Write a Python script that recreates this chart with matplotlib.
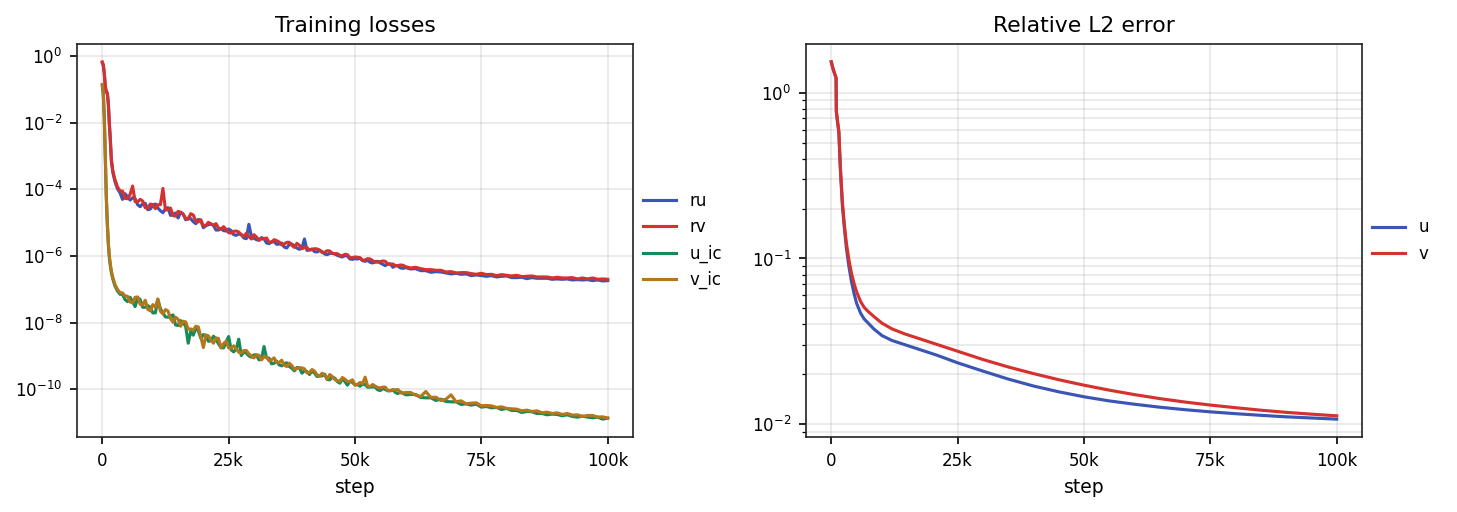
"""
Training curves: PDE residual / IC losses and relative L2 error
"""

import numpy as np
import matplotlib
matplotlib.use("Agg")
import matplotlib.pyplot as plt
from matplotlib.ticker import FuncFormatter, NullLocator

# ---- data (log10 values) ----
# steps: dense start, every 500 up to 60k, every 1000 after
loss_steps = ([0, 200, 400, 600, 800, 1000, 1200, 1400, 1600, 1800, 2100, 2500, 3000, 3500]
              + list(range(4000, 60000, 500)) + list(range(60000, 100001, 1000)))

ru_log10 = [
    -0.20, -0.28, -0.52, -0.93, -1.08, -1.13, -1.45, -2.05, -2.55, -3.15, -3.50, -3.76, -3.98, -4.10,
    -4.30, -4.13, -4.22, -4.32, -4.25, -4.28, -4.46, -4.52, -4.43, -4.42,
    -4.61, -4.59, -4.48, -4.44, -4.56, -4.64, -4.70, -4.58, -4.55, -4.78,
    -4.75, -4.71, -4.86, -4.68, -4.74, -4.91, -4.86, -4.88, -4.97, -5.03,
    -4.90, -4.94, -5.15, -5.09, -5.06, -5.04, -5.08, -5.22, -5.22, -5.17,
    -5.24, -5.25, -5.19, -5.24, -5.36, -5.38, -5.34, -5.35, -5.46, -5.48,
    -5.05, -5.41, -5.47, -5.51, -5.53, -5.45, -5.48, -5.61, -5.63, -5.57,
    -5.57, -5.65, -5.64, -5.61, -5.73, -5.76, -5.65, -5.64, -5.70, -5.76,
    -5.80, -5.76, -5.49, -5.83, -5.82, -5.79, -5.87, -5.88, -5.84, -5.87,
    -5.94, -5.96, -5.92, -5.92, -5.94, -5.98, -6.01, -6.03, -5.99, -6.00,
    -6.09, -6.10, -6.08, -6.09, -6.07, -6.14, -6.16, -6.13, -6.19, -6.21,
    -6.17, -6.16, -6.21, -6.25, -6.29, -6.23, -6.24, -6.34, -6.29, -6.30,
    -6.36, -6.37,
    -6.35, -6.39, -6.38, -6.44, -6.44, -6.49, -6.47, -6.48, -6.51, -6.54,
    -6.52, -6.55, -6.54, -6.59, -6.57, -6.59, -6.61, -6.59, -6.63, -6.61,
    -6.60, -6.65, -6.65, -6.64, -6.68, -6.65, -6.67, -6.67, -6.67, -6.70,
    -6.69, -6.70, -6.69, -6.72, -6.71, -6.72, -6.71, -6.74, -6.72, -6.75, -6.74,
]
rv_log10 = [
    -0.17, -0.25, -0.50, -0.90, -1.05, -1.10, -1.40, -2.00, -2.50, -3.10, -3.45, -3.70, -3.92, -4.05,
    -4.05, -4.27, -4.28, -4.15, -3.90, -4.37, -4.37, -4.30, -4.35, -4.55,
    -4.56, -4.44, -4.46, -4.58, -4.46, -4.46, -3.97, -4.62, -4.61, -4.56,
    -4.79, -4.80, -4.66, -4.70, -4.75, -4.87, -4.90, -4.73, -4.77, -4.95,
    -4.98, -4.91, -5.10, -5.08, -4.99, -5.04, -5.08, -5.03, -5.16, -5.20,
    -5.12, -5.20, -5.30, -5.31, -5.26, -5.25, -5.28, -5.37, -5.41, -5.32,
    -5.42, -5.49, -5.36, -5.43, -5.51, -5.49, -5.48, -5.46, -5.59, -5.59,
    -5.51, -5.54, -5.58, -5.67, -5.64, -5.59, -5.59, -5.68, -5.74, -5.62,
    -5.68, -5.78, -5.75, -5.75, -5.82, -5.81, -5.78, -5.79, -5.82, -5.90,
    -5.89, -5.84, -5.85, -5.92, -5.93, -5.93, -5.98, -6.00, -5.95, -5.96,
    -6.05, -6.05, -6.03, -6.04, -6.05, -6.13, -6.12, -6.08, -6.09, -6.14,
    -6.19, -6.18, -6.17, -6.15, -6.16, -6.25, -6.25, -6.24, -6.29, -6.29,
    -6.27, -6.28,
    -6.32, -6.36, -6.34, -6.38, -6.41, -6.41, -6.43, -6.43, -6.48, -6.47,
    -6.51, -6.50, -6.50, -6.53, -6.55, -6.52, -6.56, -6.55, -6.59, -6.56,
    -6.58, -6.60, -6.58, -6.62, -6.61, -6.60, -6.63, -6.63, -6.63, -6.66,
    -6.64, -6.66, -6.66, -6.65, -6.69, -6.66, -6.69, -6.66, -6.70, -6.69, -6.70,
]
u_ic_log10 = [
    -0.88, -1.15, -1.85, -3.05, -4.25, -5.05, -5.65, -6.05, -6.30, -6.50, -6.70, -6.90, -7.05, -7.15,
    -7.15, -7.31, -7.37, -7.24, -7.37, -7.52, -7.25, -7.31, -7.54, -7.54,
    -7.49, -7.54, -7.71, -7.71, -7.31, -7.58, -7.71, -7.83, -7.84, -7.80,
    -7.77, -8.07, -8.09, -7.94, -8.01, -8.11, -8.62, -8.26, -8.38, -8.16,
    -8.25, -8.47, -8.36, -8.41, -8.56, -8.55, -8.41, -8.50, -8.64, -8.75,
    -8.76, -8.58, -8.42, -8.82, -8.88, -8.79, -8.50, -8.99, -8.88, -8.92,
    -9.00, -9.04, -8.97, -8.97, -9.12, -9.10, -8.72, -9.06, -9.07, -9.24,
    -9.22, -9.16, -9.27, -9.30, -9.23, -9.21, -9.32, -9.37, -9.45, -9.35,
    -9.36, -9.52, -9.45, -9.47, -9.56, -9.45, -9.52, -9.62, -9.60, -9.60,
    -9.55, -9.71, -9.72, -9.64, -9.67, -9.77, -9.82, -9.69, -9.77, -9.88,
    -9.76, -9.80, -9.87, -9.86, -9.91, -9.85, -9.86, -9.94, -9.94, -9.93,
    -9.94, -10.02, -10.04, -9.98, -10.01, -10.05, -10.05, -10.02, -10.10, -10.13,
    -10.08, -10.12,
    -10.17, -10.16, -10.16, -10.25, -10.26, -10.26, -10.34, -10.30, -10.37, -10.38,
    -10.38, -10.46, -10.44, -10.48, -10.45, -10.54, -10.52, -10.56, -10.55, -10.61,
    -10.58, -10.64, -10.64, -10.70, -10.67, -10.68, -10.73, -10.73, -10.77, -10.75,
    -10.76, -10.80, -10.77, -10.82, -10.84, -10.81, -10.84, -10.86, -10.84, -10.90, -10.87,
]
v_ic_log10 = [
    -0.85, -1.10, -1.80, -3.00, -4.20, -5.00, -5.60, -6.00, -6.25, -6.45, -6.65, -6.85, -7.00, -7.10,
    -7.11, -7.20, -7.21, -7.38, -7.41, -7.24, -7.23, -7.45, -7.47, -7.33,
    -7.60, -7.65, -7.46, -7.54, -7.29, -7.66, -7.74, -7.61, -7.65, -7.88,
    -7.99, -7.84, -7.90, -8.11, -7.96, -7.98, -8.20, -8.19, -8.23, -8.11,
    -8.13, -8.43, -8.75, -8.37, -8.40, -8.53, -8.62, -8.46, -8.48, -8.76,
    -8.63, -8.56, -8.76, -8.77, -8.70, -8.79, -8.89, -8.91, -8.84, -8.84,
    -8.94, -9.00, -9.06, -8.97, -8.98, -9.12, -9.03, -9.03, -9.15, -9.12,
    -9.06, -9.20, -9.20, -9.13, -9.28, -9.32, -9.22, -9.29, -9.40, -9.38,
    -9.36, -9.36, -9.39, -9.51, -9.50, -9.41, -9.46, -9.57, -9.61, -9.52,
    -9.58, -9.70, -9.56, -9.62, -9.71, -9.74, -9.76, -9.65, -9.70, -9.77,
    -9.77, -9.72, -9.88, -9.86, -9.80, -9.83, -9.64, -9.91, -9.92, -9.86,
    -9.91, -9.95, -9.96, -9.94, -9.94, -10.04, -10.04, -10.02, -10.02, -10.01,
    -10.11, -10.12,
    -10.10, -10.10, -10.18, -10.22, -10.07, -10.25, -10.24, -10.34, -10.30, -10.17,
    -10.38, -10.35, -10.44, -10.42, -10.41, -10.50, -10.49, -10.50, -10.55, -10.53,
    -10.58, -10.59, -10.60, -10.65, -10.63, -10.67, -10.65, -10.71, -10.69, -10.73,
    -10.71, -10.76, -10.73, -10.78, -10.77, -10.82, -10.79, -10.79, -10.84, -10.83, -10.87,
]

err_steps = [0, 400, 950, 1000, 1200, 1500, 1800, 2200, 2600, 3000,
             3500, 4000, 4500, 5000, 5800, 6500, 7300, 8400, 10000, 12000,
             14500, 17500, 21000, 25000, 30000, 35000, 40000, 45000, 50000, 55000,
             60000, 65000, 70000, 75000, 80000, 85000, 90000, 95000, 100000]
u_err_log10 = [0.187, 0.14, 0.09, -0.11, -0.17, -0.24, -0.46, -0.68, -0.82, -0.94,
               -1.05, -1.14, -1.21, -1.27, -1.33, -1.365, -1.39, -1.425, -1.465, -1.495,
               -1.52, -1.55, -1.585, -1.63, -1.68, -1.728, -1.77, -1.805, -1.835, -1.86,
               -1.88, -1.898, -1.913, -1.926, -1.937, -1.947, -1.956, -1.963, -1.97]
v_err_log10 = [0.187, 0.14, 0.09, -0.11, -0.16, -0.23, -0.45, -0.66, -0.80, -0.91,
               -1.01, -1.09, -1.15, -1.20, -1.26, -1.295, -1.32, -1.35, -1.39, -1.425,
               -1.455, -1.485, -1.52, -1.56, -1.61, -1.655, -1.695, -1.732, -1.765, -1.795,
               -1.822, -1.846, -1.867, -1.885, -1.901, -1.916, -1.929, -1.94, -1.95]

loss_yticks = [1e0, 1e-2, 1e-4, 1e-6, 1e-8, 1e-10]

colors = {
    'ru': '#3a55b4',
    'rv': '#d5322f',
    'u_ic': '#178a5a',
    'v_ic': '#b5771b',
}


def kfmt(x, pos):
    if x == 0:
        return '0'
    return f'{int(round(x / 1000))}k'


fig = plt.figure(figsize=(1457 / 150, 512 / 150), dpi=150)
ax1 = fig.add_axes([77 / 1457, 75 / 512, 556 / 1457, 393 / 512])
ax2 = fig.add_axes([806 / 1457, 75 / 512, 556 / 1457, 393 / 512])

# left: training losses
for name, vals in [('ru', ru_log10), ('rv', rv_log10), ('u_ic', u_ic_log10), ('v_ic', v_ic_log10)]:
    ax1.plot(loss_steps, 10.0 ** np.array(vals), color=colors[name], linewidth=1.5, label=name)
ax1.set_yscale('log')
ax1.set_yticks(loss_yticks)
ax1.yaxis.set_minor_locator(NullLocator())
ax1.set_title('Training losses', fontsize=10.5)
ax1.grid(True, alpha=0.3)

# right: relative L2 error
ax2.plot(err_steps, 10.0 ** np.array(u_err_log10), color=colors['ru'], linewidth=1.5, label='u')
ax2.plot(err_steps, 10.0 ** np.array(v_err_log10), color=colors['rv'], linewidth=1.5, label='v')
ax2.set_yscale('log')
ax2.set_title('Relative L2 error', fontsize=10.5)
ax2.grid(True, which='both', alpha=0.3)

for ax in (ax1, ax2):
    ax.set_xticks([0, 25000, 50000, 75000, 100000])
    ax.xaxis.set_major_formatter(FuncFormatter(kfmt))
    ax.set_xlabel('step', fontsize=9)
    ax.tick_params(labelsize=8)
    for sp in ax.spines.values():
        sp.set_color('#222222')
    ax.legend(loc='center left', bbox_to_anchor=(1.0, 0.5), frameon=False,
              fontsize=8, borderaxespad=0.2)

fig.savefig('out.png', dpi=150)
